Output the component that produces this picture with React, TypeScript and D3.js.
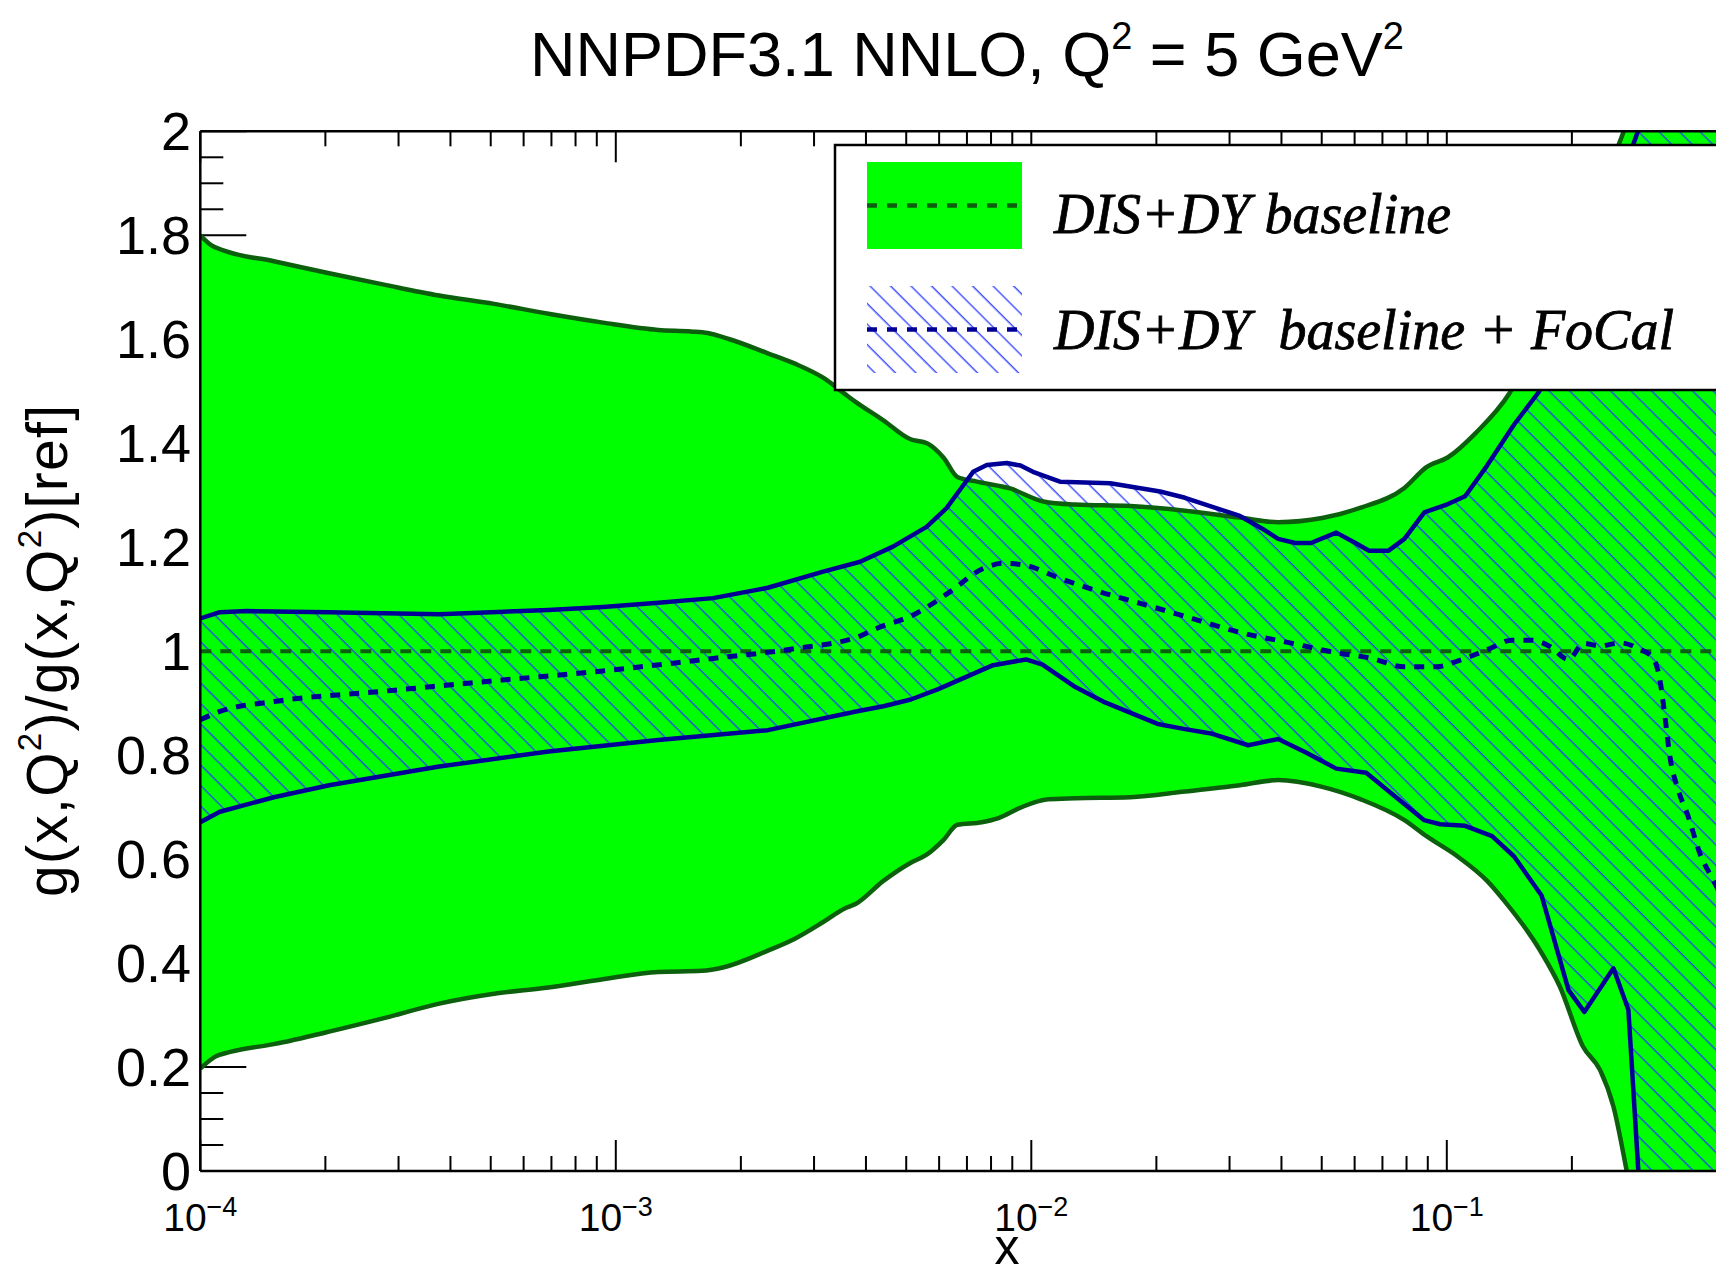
import React from 'react';
import * as d3 from 'd3';

// [log10(x), ratio]
const baselineUpper: [number, number][] = [
  [-4.0, 1.8], [-3.974, 1.781], [-3.941, 1.77], [-3.823, 1.75], [-3.69, 1.727], [-3.558, 1.705],
  [-3.425, 1.684], [-3.293, 1.668], [-3.162, 1.649], [-3.031, 1.632], [-2.898, 1.618], [-2.819, 1.615],
  [-2.779, 1.612], [-2.726, 1.6], [-2.634, 1.573], [-2.569, 1.553], [-2.501, 1.526], [-2.449, 1.495],
  [-2.422, 1.479], [-2.356, 1.444], [-2.292, 1.408], [-2.251, 1.4], [-2.211, 1.372], [-2.178, 1.335],
  [-2.131, 1.326], [-2.051, 1.313], [-1.971, 1.288], [-1.894, 1.282], [-1.762, 1.279], [-1.63, 1.27],
  [-1.498, 1.257], [-1.406, 1.248], [-1.3, 1.256], [-1.207, 1.276], [-1.102, 1.314], [-1.049, 1.354],
  [-0.997, 1.373], [-0.93, 1.42], [-0.85, 1.495], [-0.75, 1.66], [-0.65, 1.85], [-0.574, 2.0],
  [-0.45, 2.3], [-0.3, 2.6],
];

const baselineLower: [number, number][] = [
  [-4.0, 0.197], [-3.966, 0.219], [-3.928, 0.229], [-3.823, 0.244], [-3.69, 0.268], [-3.558, 0.294],
  [-3.425, 0.322], [-3.293, 0.341], [-3.162, 0.353], [-3.031, 0.369], [-2.898, 0.383], [-2.793, 0.385],
  [-2.74, 0.392], [-2.634, 0.424], [-2.569, 0.447], [-2.501, 0.479], [-2.449, 0.505], [-2.422, 0.514],
  [-2.356, 0.558], [-2.29, 0.593], [-2.251, 0.609], [-2.211, 0.637], [-2.178, 0.666], [-2.119, 0.671],
  [-2.079, 0.679], [-2.026, 0.699], [-1.96, 0.715], [-1.894, 0.717], [-1.762, 0.719], [-1.63, 0.73],
  [-1.498, 0.742], [-1.406, 0.752], [-1.3, 0.739], [-1.207, 0.715], [-1.102, 0.675], [-1.049, 0.644],
  [-0.974, 0.605], [-0.903, 0.558], [-0.863, 0.521], [-0.776, 0.425], [-0.728, 0.355], [-0.672, 0.239],
  [-0.631, 0.194], [-0.599, 0.124], [-0.567, 0.0], [-0.5, -0.3], [-0.3, -1.0],
];

const baselineCentral: [number, number][] = [[-4.0, 1.0], [0.0, 1.0]];

const focalUpper: [number, number][] = [
  [-4.0, 1.063], [-3.953, 1.075], [-3.887, 1.077], [-3.69, 1.075], [-3.425, 1.071], [-3.162, 1.079],
  [-3.031, 1.085], [-2.898, 1.093], [-2.766, 1.102], [-2.634, 1.122], [-2.501, 1.153], [-2.412, 1.172],
  [-2.333, 1.201], [-2.252, 1.239], [-2.204, 1.275], [-2.172, 1.31], [-2.14, 1.345], [-2.107, 1.358],
  [-2.059, 1.362], [-2.026, 1.357], [-1.996, 1.345], [-1.931, 1.326], [-1.81, 1.323], [-1.69, 1.307],
  [-1.63, 1.295], [-1.498, 1.26], [-1.445, 1.236], [-1.406, 1.216], [-1.365, 1.208], [-1.327, 1.208],
  [-1.266, 1.228], [-1.22, 1.208], [-1.187, 1.193], [-1.141, 1.193], [-1.102, 1.216], [-1.054, 1.267],
  [-0.997, 1.283], [-0.956, 1.298], [-0.903, 1.357], [-0.838, 1.436], [-0.778, 1.499], [-0.7, 1.63],
  [-0.62, 1.82], [-0.54, 2.0], [-0.45, 2.2], [-0.3, 2.5],
];

const focalLower: [number, number][] = [
  [-4.0, 0.671], [-3.953, 0.691], [-3.823, 0.719], [-3.69, 0.742], [-3.425, 0.778], [-3.162, 0.807],
  [-2.898, 0.829], [-2.634, 0.848], [-2.422, 0.884], [-2.356, 0.894], [-2.29, 0.907], [-2.224, 0.927],
  [-2.158, 0.95], [-2.092, 0.973], [-2.013, 0.984], [-1.973, 0.974], [-1.894, 0.931], [-1.827, 0.903],
  [-1.696, 0.86], [-1.63, 0.85], [-1.564, 0.841], [-1.478, 0.819], [-1.406, 0.831], [-1.339, 0.805],
  [-1.266, 0.774], [-1.194, 0.766], [-1.128, 0.723], [-1.055, 0.675], [-1.016, 0.667], [-0.956, 0.664],
  [-0.891, 0.644], [-0.838, 0.605], [-0.772, 0.53], [-0.707, 0.348], [-0.669, 0.306], [-0.599, 0.39],
  [-0.563, 0.31], [-0.539, 0.0], [-0.5, -0.6], [-0.3, -1.0],
];

const focalCentral: [number, number][] = [
  [-4.0, 0.868], [-3.953, 0.884], [-3.823, 0.903], [-3.558, 0.923], [-3.293, 0.943], [-3.031, 0.962],
  [-2.766, 0.986], [-2.569, 1.005], [-2.412, 1.029], [-2.38, 1.041], [-2.276, 1.073], [-2.196, 1.114],
  [-2.116, 1.159], [-2.067, 1.169], [-2.019, 1.166], [-1.931, 1.14], [-1.834, 1.114], [-1.738, 1.092],
  [-1.63, 1.067], [-1.498, 1.036], [-1.365, 1.014], [-1.274, 0.998], [-1.181, 0.986], [-1.102, 0.97],
  [-1.024, 0.97], [-0.971, 0.982], [-0.93, 0.994], [-0.896, 1.005], [-0.844, 1.021], [-0.796, 1.021],
  [-0.752, 1.009], [-0.707, 0.984], [-0.671, 1.015], [-0.631, 1.01], [-0.583, 1.016], [-0.539, 1.005],
  [-0.503, 0.986], [-0.487, 0.944], [-0.475, 0.874], [-0.463, 0.797], [-0.443, 0.733], [-0.419, 0.682],
  [-0.391, 0.611], [-0.359, 0.56], [-0.3, 0.47],
];

const yTickValues = [0, 0.2, 0.4, 0.6, 0.8, 1, 1.2, 1.4, 1.6, 1.8, 2];
const yTickLabels = ['0', '0.2', '0.4', '0.6', '0.8', '1', '1.2', '1.4', '1.6', '1.8', '2'];
const xDecades = [-4, -3, -2, -1];
const xExpLabels = ['\u22124', '\u22123', '\u22122', '\u22121'];

const W = 1716;
const H = 1275;
const GREEN = '#00ff00';
const DKGREEN = '#0c5f0c';
const NAVY = '#000096';
const sans = 'Liberation Sans, Arial, Helvetica, sans-serif';
const serif = 'Liberation Serif, Times New Roman, serif';

const x = d3.scaleLog().domain([1e-4, 1]).range([200.3, 1862.3]);
const y = d3.scaleLinear().domain([0, 2]).range([1171, 131.3]);

// baseline curves are smooth, the FoCal ones are drawn point to point
const smooth = d3.line<[number, number]>()
  .x(d => x(Math.pow(10, d[0])))
  .y(d => y(d[1]))
  .curve(d3.curveMonotoneX);
const straight = d3.line<[number, number]>()
  .x(d => x(Math.pow(10, d[0])))
  .y(d => y(d[1]));

const band = (gen: typeof smooth, up: [number, number][], lo: [number, number][]) =>
  (gen(up) || '') + (gen(lo.slice().reverse()) || '').replace(/^M/, 'L') + 'Z';

export default function App() {
  const [x0, x1] = x.range();
  const [yb, yt] = y.range();
  const yMinor = d3.range(0, 2.0001, 0.05).filter(v => Math.abs(v * 5 - Math.round(v * 5)) > 1e-6);
  const xMinor = x.ticks().filter(v => Math.abs(Math.log10(v) - Math.round(Math.log10(v))) > 1e-6);

  return (
    <svg width={W} height={H} style={{ position: 'absolute', left: 0, top: 0, background: '#fff' }}>
      <defs>
        <clipPath id="plotClip">
          <rect x={x0} y={yt} width={x1 - x0} height={yb - yt} />
        </clipPath>
        <pattern id="hatch" patternUnits="userSpaceOnUse" width={14.5} height={14.5} patternTransform="rotate(-45)">
          <line x1={7} y1={-1} x2={7} y2={16} stroke="#2a3cff" strokeWidth={1.3} />
        </pattern>
      </defs>
      <rect x={0} y={0} width={W} height={H} fill="#fff" />

      {/* title */}
      <text x={967} y={76} textAnchor="middle" fontSize={63} fontFamily={sans}>
        NNPDF3.1 NNLO, Q<tspan fontSize={38} dy={-27}>2</tspan>
        <tspan dy={27}>{' = 5 GeV'}</tspan>
        <tspan fontSize={38} dy={-27}>2</tspan>
      </text>

      {/* ticks (under the bands) */}
      <g stroke="#000" strokeWidth={2}>
        {yTickValues.map(v => <line key={'ym' + v} x1={x0} x2={x0 + 46} y1={y(v)} y2={y(v)} />)}
        {yMinor.map(v => <line key={'yn' + v} x1={x0} x2={x0 + 23} y1={y(v)} y2={y(v)} />)}
        {xDecades.concat([0]).map(d => (
          <g key={'xm' + d}>
            <line x1={x(Math.pow(10, d))} x2={x(Math.pow(10, d))} y1={yb} y2={yb - 31} />
            <line x1={x(Math.pow(10, d))} x2={x(Math.pow(10, d))} y1={yt} y2={yt + 31} />
          </g>
        ))}
        {xMinor.map(v => (
          <g key={'xn' + v}>
            <line x1={x(v)} x2={x(v)} y1={yb} y2={yb - 15} />
            <line x1={x(v)} x2={x(v)} y1={yt} y2={yt + 15} />
          </g>
        ))}
      </g>

      <g clipPath="url(#plotClip)">
        <path d={band(smooth, baselineUpper, baselineLower)} fill={GREEN} />
        <path d={band(straight, focalUpper, focalLower)} fill="url(#hatch)" />
        <path d={smooth(baselineUpper) || ''} fill="none" stroke={DKGREEN} strokeWidth={4.5} />
        <path d={smooth(baselineLower) || ''} fill="none" stroke={DKGREEN} strokeWidth={4.5} />
        <path d={straight(focalUpper) || ''} fill="none" stroke={NAVY} strokeWidth={4.5} strokeLinejoin="round" />
        <path d={straight(focalLower) || ''} fill="none" stroke={NAVY} strokeWidth={4.5} strokeLinejoin="round" />
        <path d={straight(baselineCentral) || ''} fill="none" stroke={DKGREEN} strokeWidth={4} strokeDasharray="11 9" />
        <path d={smooth(focalCentral) || ''} fill="none" stroke={NAVY} strokeWidth={5} strokeDasharray="10 9" />
      </g>

      {/* frame */}
      <g stroke="#000" strokeWidth={2.5} fill="none">
        <line x1={x0} x2={x0} y1={yt} y2={yb} />
        <line x1={x0} x2={x1} y1={yt} y2={yt} />
        <line x1={x0} x2={x1} y1={yb} y2={yb} />
      </g>

      {/* tick labels */}
      {yTickValues.map((v, i) => (
        <text key={'yl' + v} x={191} y={y(v) + 19} textAnchor="end" fontSize={54} fontFamily={sans}>
          {yTickLabels[i]}
        </text>
      ))}
      {xDecades.map((d, i) => (
        <text key={'xl' + d} x={x(Math.pow(10, d))} y={1231} textAnchor="middle" fontSize={39} fontFamily={sans}>
          10<tspan fontSize={27} dy={-15}>{xExpLabels[i]}</tspan>
        </text>
      ))}

      {/* axis titles */}
      <text x={1007} y={1264} textAnchor="middle" fontSize={50} fontFamily={sans}>x</text>
      <text transform="translate(67,651) rotate(-90)" textAnchor="middle" fontSize={57} fontFamily={sans}
        textLength={492} lengthAdjust="spacing">
        g(x,Q<tspan fontSize={33} dy={-26}>2</tspan>
        <tspan dy={26}>)/g(x,Q</tspan>
        <tspan fontSize={33} dy={-26}>2</tspan>
        <tspan dy={26}>)[ref]</tspan>
      </text>

      {/* legend */}
      <rect x={835} y={145} width={920} height={245} fill="#fff" stroke="#000" strokeWidth={2.5} />
      <rect x={867} y={162} width={155} height={87} fill={GREEN} />
      <line x1={867} x2={1022} y1={205.5} y2={205.5} stroke={DKGREEN} strokeWidth={4.5} strokeDasharray="10 10" />
      <rect x={867} y={286} width={155} height={87} fill="url(#hatch)" />
      <line x1={867} x2={1022} y1={329.5} y2={329.5} stroke={NAVY} strokeWidth={4.7} strokeDasharray="10 10" />
      <g fontSize={56} fontStyle="italic" fontFamily={serif} stroke="#000" strokeWidth={0.8}>
        <text x={1054} y={232.5}>DIS+DY baseline</text>
        <text x={1054} y={349} style={{ whiteSpace: 'pre' }}>{'DIS+DY  baseline + FoCal'}</text>
      </g>
    </svg>
  );
}
